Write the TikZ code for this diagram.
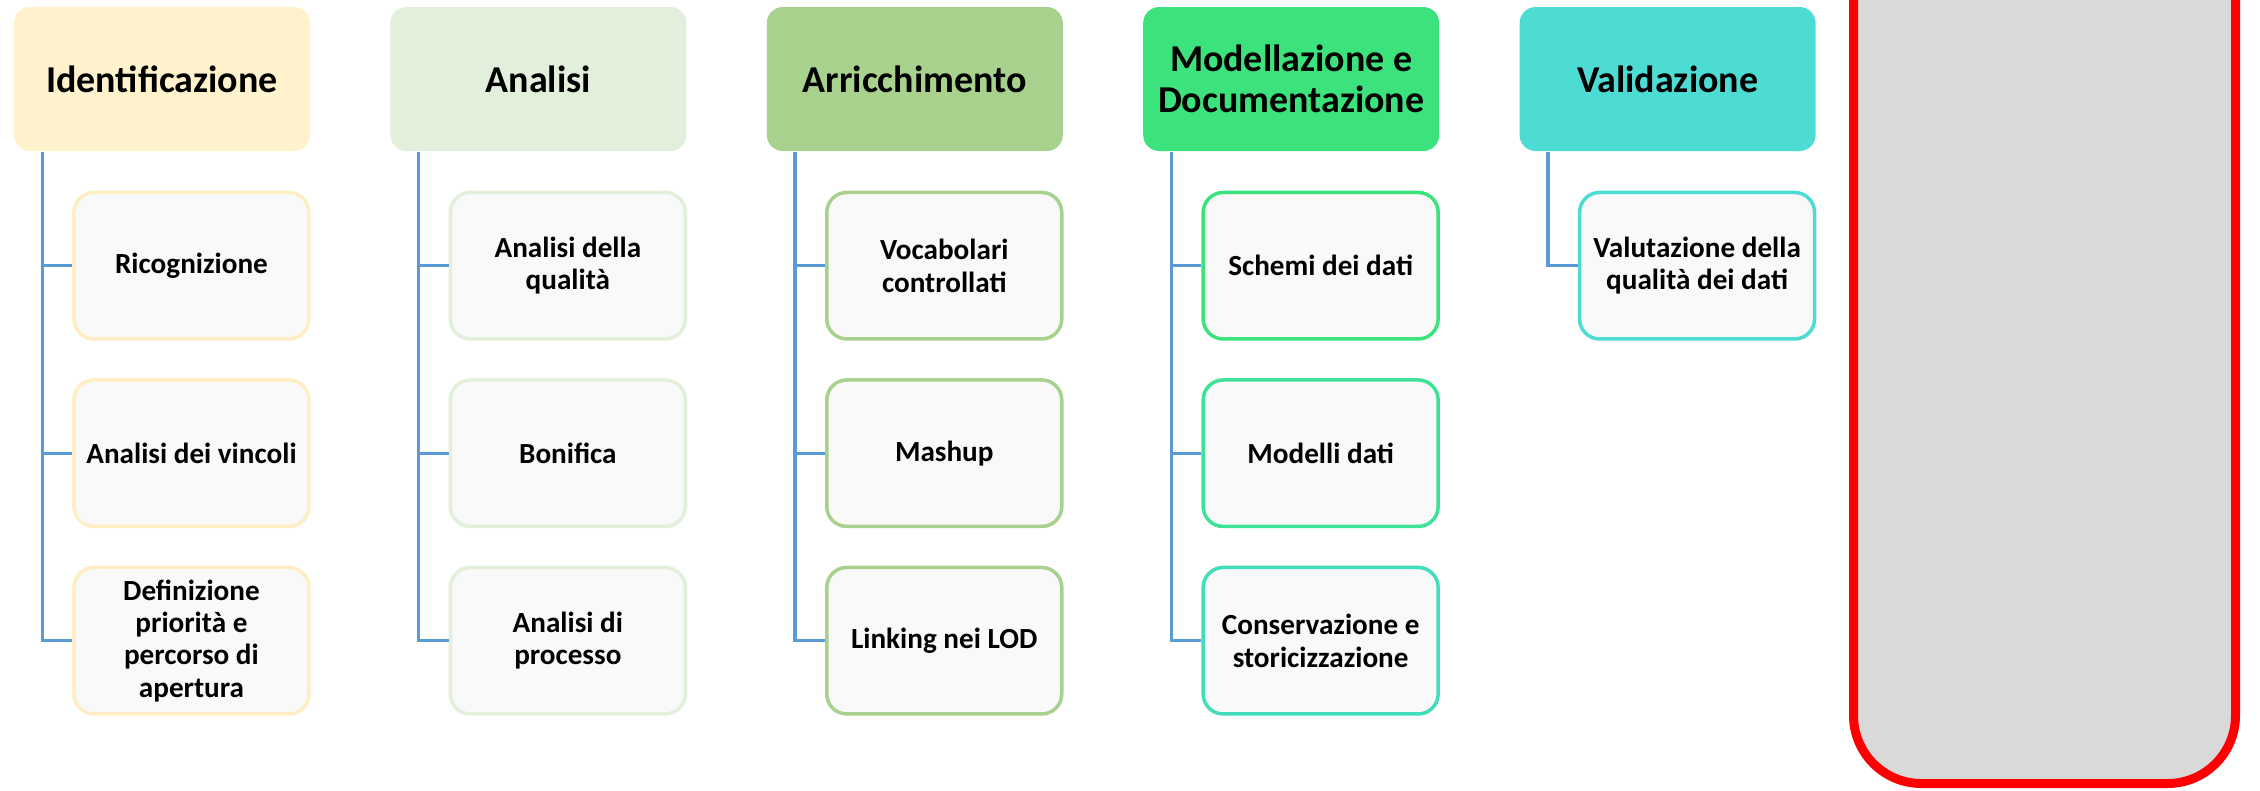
\documentclass[tikz,border=0pt]{standalone}
\usepackage{fontspec}
\setmainfont{Carlito}
\usepackage{tikz}
\usetikzlibrary{positioning}
\definecolor{identyellow}{RGB}{255,242,204}
\definecolor{identline}{RGB}{255,238,196}
\definecolor{analgreen}{RGB}{226,239,218}
\definecolor{arricgreen}{RGB}{169,209,142}
\definecolor{modelgreen}{RGB}{60,226,124}
\definecolor{modelmint}{RGB}{62,226,150}
\definecolor{modelteal}{RGB}{66,221,186}
\definecolor{validteal}{RGB}{77,220,211}
\definecolor{taskwhite}{RGB}{249,249,249}
\definecolor{linkblue}{RGB}{91,155,213}
\definecolor{panelgray}{RGB}{217,217,217}
\tikzstyle{phase}=[rounded corners=1.6mm,minimum width=29.6mm,minimum height=14.4mm,inner sep=0pt,align=center,font=\bfseries\fontsize{10.8}{11.6}\selectfont]
\tikzstyle{task}=[draw,line width=0.35mm,fill=taskwhite,rounded corners=2mm,minimum width=23.5mm,minimum height=14.65mm,inner sep=0pt,align=center,font=\bfseries\fontsize{8.3}{9.2}\selectfont]
\tikzstyle{link}=[draw=linkblue,line width=0.33mm]

\begin{document}
\begin{tikzpicture}[x=1mm,y=1mm]
\useasboundingbox (0,-79) rectangle (226,0);
\clip (0,-79) rectangle (226,0);
% phases
\node [phase,fill=identyellow] (ident) at (16.2,-7.9) {Identificazione};
\node [phase,fill=analgreen,right=7.9mm of ident] (anal) {Analisi};
\node [phase,fill=arricgreen,right=7.9mm of anal] (arric) {Arricchimento};
\node [phase,fill=modelgreen,right=7.9mm of arric] (model) {Modellazione e\\Documentazione};
\node [phase,fill=validteal,right=7.9mm of model] (valid) {Validazione};
% tasks
\node [task,draw=identline,below=3.9mm of ident.south east,anchor=north east] (ident1) {Ricognizione};
\node [task,draw=identline,below=3.75mm of ident1] (ident2) {Analisi dei vincoli};
\node [task,draw=identline,below=3.75mm of ident2] (ident3) {Definizione\\priorità e\\percorso di\\apertura};
\node [task,draw=analgreen,below=3.9mm of anal.south east,anchor=north east] (anal1) {Analisi della\\qualità};
\node [task,draw=analgreen,below=3.75mm of anal1] (anal2) {Bonifica};
\node [task,draw=analgreen,below=3.75mm of anal2] (anal3) {Analisi di\\processo};
\node [task,draw=arricgreen,below=3.9mm of arric.south east,anchor=north east] (arric1) {Vocabolari\\controllati};
\node [task,draw=arricgreen,below=3.75mm of arric1] (arric2) {Mashup};
\node [task,draw=arricgreen,below=3.75mm of arric2] (arric3) {Linking nei LOD};
\node [task,draw=modelgreen,below=3.9mm of model.south east,anchor=north east] (model1) {Schemi dei dati};
\node [task,draw=modelmint,below=3.75mm of model1] (model2) {Modelli dati};
\node [task,draw=modelteal,below=3.75mm of model2] (model3) {Conservazione e\\storicizzazione};
\node [task,draw=validteal,below=3.9mm of valid.south east,anchor=north east] (valid1) {Valutazione della\\qualità dei dati};
% links
\foreach \p in {ident,anal,arric,model,valid}
  \coordinate (\p stem) at ([xshift=2.9mm]\p.south west);
\foreach \p in {ident,anal,arric,model}
  \foreach \n in {1,2,3}
    \draw [link] (\p stem) |- (\p\n.west);
\draw [link] (validstem) |- (valid1.west);
% red panel
\draw [line width=0.9mm,draw=red,fill=panelgray,rounded corners=6.8mm] (185.35,-78.35) rectangle (223.55,10);
\end{tikzpicture}
\end{document}
